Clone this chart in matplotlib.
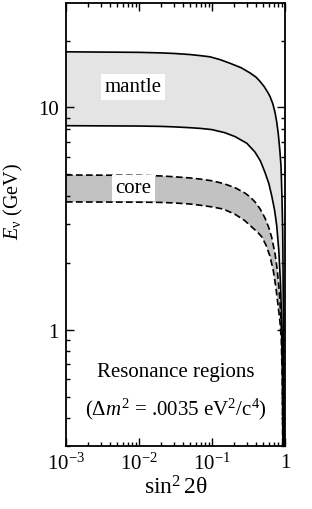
import numpy as np
import matplotlib
matplotlib.use("Agg")
import matplotlib.pyplot as plt
from matplotlib.ticker import LogLocator, FixedLocator, FixedFormatter, NullFormatter

plt.rcParams['font.family'] = ['Liberation Serif', 'DejaVu Serif']
plt.rcParams['mathtext.fontset'] = 'custom'
plt.rcParams['mathtext.rm'] = 'Liberation Serif'
plt.rcParams['mathtext.it'] = 'Liberation Serif:italic'

# values (sin^2 2theta, E_nu in GeV)
mantle_hi_x = [0.001, 0.01, 0.02, 0.03, 0.05, 0.07, 0.094, 0.13, 0.177, 0.25, 0.332, 0.40,
               0.455, 0.52, 0.58, 0.624, 0.68, 0.73, 0.77, 0.809, 0.85, 0.882, 0.91, 0.93,
               0.948, 0.96, 0.969]
mantle_hi_y = [17.8, 17.7, 17.6, 17.5, 17.3, 17.1, 16.9, 16.4, 15.8, 15.1, 14.3, 13.7,
               13.1, 12.4, 11.7, 11.2, 10.4, 9.5, 8.6, 7.6, 6.4, 5.43, 3.87, 2.75,
               1.38, 0.7, 0.3]
mantle_lo_x = [0.001, 0.01, 0.02, 0.03, 0.05, 0.07, 0.1, 0.15, 0.206, 0.3, 0.388, 0.46,
               0.532, 0.6, 0.658, 0.72, 0.77, 0.82, 0.86, 0.89, 0.92, 0.935, 0.95]
mantle_lo_y = [8.28, 8.25, 8.22, 8.18, 8.11, 8.05, 7.95, 7.7, 7.4, 6.9, 6.3, 5.75,
               5.1, 4.55, 4.0, 3.45, 2.94, 2.3, 1.7, 1.25, 0.9, 0.6, 0.3]
core_hi_x = [0.001, 0.01, 0.02, 0.03, 0.05, 0.07, 0.1, 0.143, 0.206, 0.28, 0.332, 0.388,
             0.46, 0.532, 0.6, 0.658, 0.73, 0.78, 0.83, 0.87, 0.90, 0.92, 0.935]
core_hi_y = [4.97, 4.95, 4.92, 4.88, 4.82, 4.76, 4.68, 4.55, 4.36, 4.13, 3.96, 3.76,
             3.48, 3.18, 2.88, 2.6, 2.2, 1.88, 1.52, 1.2, 0.95, 0.65, 0.3]
core_lo_x = [0.001, 0.01, 0.02, 0.03, 0.05, 0.07, 0.1, 0.143, 0.206, 0.28, 0.35, 0.42,
             0.48, 0.55, 0.62, 0.69, 0.75, 0.8, 0.85, 0.89, 0.915, 0.93]
core_lo_y = [3.76, 3.75, 3.74, 3.72, 3.68, 3.63, 3.57, 3.49, 3.31, 3.1, 2.9, 2.75,
             2.62, 2.4, 2.15, 1.85, 1.55, 1.3, 1.1, 0.9, 0.6, 0.3]

xticks = [1e-3, 1e-2, 1e-1, 1]
xticklabels = [r'$10^{-3}$', r'$10^{-2}$', r'$10^{-1}$', '1']
yticks = [1, 10]
yticklabels = ['1', '10']

fig = plt.figure(figsize=(3.12, 5.10), dpi=100)
ax = fig.add_axes([0.2115, 0.1235, 0.702, 0.8686])
ax.set_xscale('log')
ax.set_yscale('log')

# shaded bands
ax.fill(np.concatenate([mantle_hi_x, mantle_lo_x[::-1]]),
        np.concatenate([mantle_hi_y, mantle_lo_y[::-1]]),
        color='#e4e4e4', lw=0, zorder=1)
ax.fill(np.concatenate([core_hi_x, core_lo_x[::-1]]),
        np.concatenate([core_hi_y, core_lo_y[::-1]]),
        color='#c2c2c2', lw=0, zorder=1)

ax.plot(mantle_hi_x, mantle_hi_y, color='black', lw=1.2, zorder=3)
ax.plot(mantle_lo_x, mantle_lo_y, color='black', lw=1.2, zorder=3)
ax.plot(core_hi_x, core_hi_y, color='black', lw=1.2, ls=(0, (4, 2)), zorder=3)
ax.plot(core_lo_x, core_lo_y, color='black', lw=1.2, ls=(0, (4, 2)), zorder=3)

ax.set_xlim(1e-3, 1)
ax.set_ylim(0.3, 29.5)

ax.xaxis.set_major_locator(FixedLocator(xticks))
ax.xaxis.set_major_formatter(FixedFormatter(xticklabels))
ax.xaxis.set_minor_locator(LogLocator(base=10, subs=np.arange(2, 10)))
ax.xaxis.set_minor_formatter(NullFormatter())
ax.yaxis.set_major_locator(FixedLocator(yticks))
ax.yaxis.set_major_formatter(FixedFormatter(yticklabels))
ax.yaxis.set_minor_locator(LogLocator(base=10, subs=np.arange(2, 10)))
ax.yaxis.set_minor_formatter(NullFormatter())

ax.tick_params(which='both', direction='in', top=True, right=True, width=1.0)
ax.tick_params(which='major', length=6, labelsize=15, pad=5)
ax.tick_params(which='minor', length=3)
for s in ax.spines.values():
    s.set_linewidth(1.3)

ax.set_xlabel(r'$\mathrm{sin}^2\,2\mathrm{\theta}$', fontsize=17, labelpad=1)
ax.set_ylabel(r'$E_{\mathrm{\nu}}$ (GeV)', fontsize=14.5)
ax.yaxis.set_label_coords(-0.185, 0.554)

box = dict(facecolor='white', edgecolor='none', pad=2.5)
ax.text(0.0083, 12.4, 'mantle', fontsize=15, ha='center', va='center', bbox=box, zorder=4)
ax.text(0.0083, 4.35, 'core', fontsize=15, ha='center', va='center', bbox=box, zorder=4)

ax.text(0.5, 0.169, 'Resonance regions', fontsize=15, ha='center', va='center',
        transform=ax.transAxes)
ax.text(0.5, 0.084, r'($\Delta m^2$ = .0035 eV$^2$/c$^4$)', fontsize=15,
        ha='center', va='center', transform=ax.transAxes)

fig.savefig('out.png', dpi=100)
